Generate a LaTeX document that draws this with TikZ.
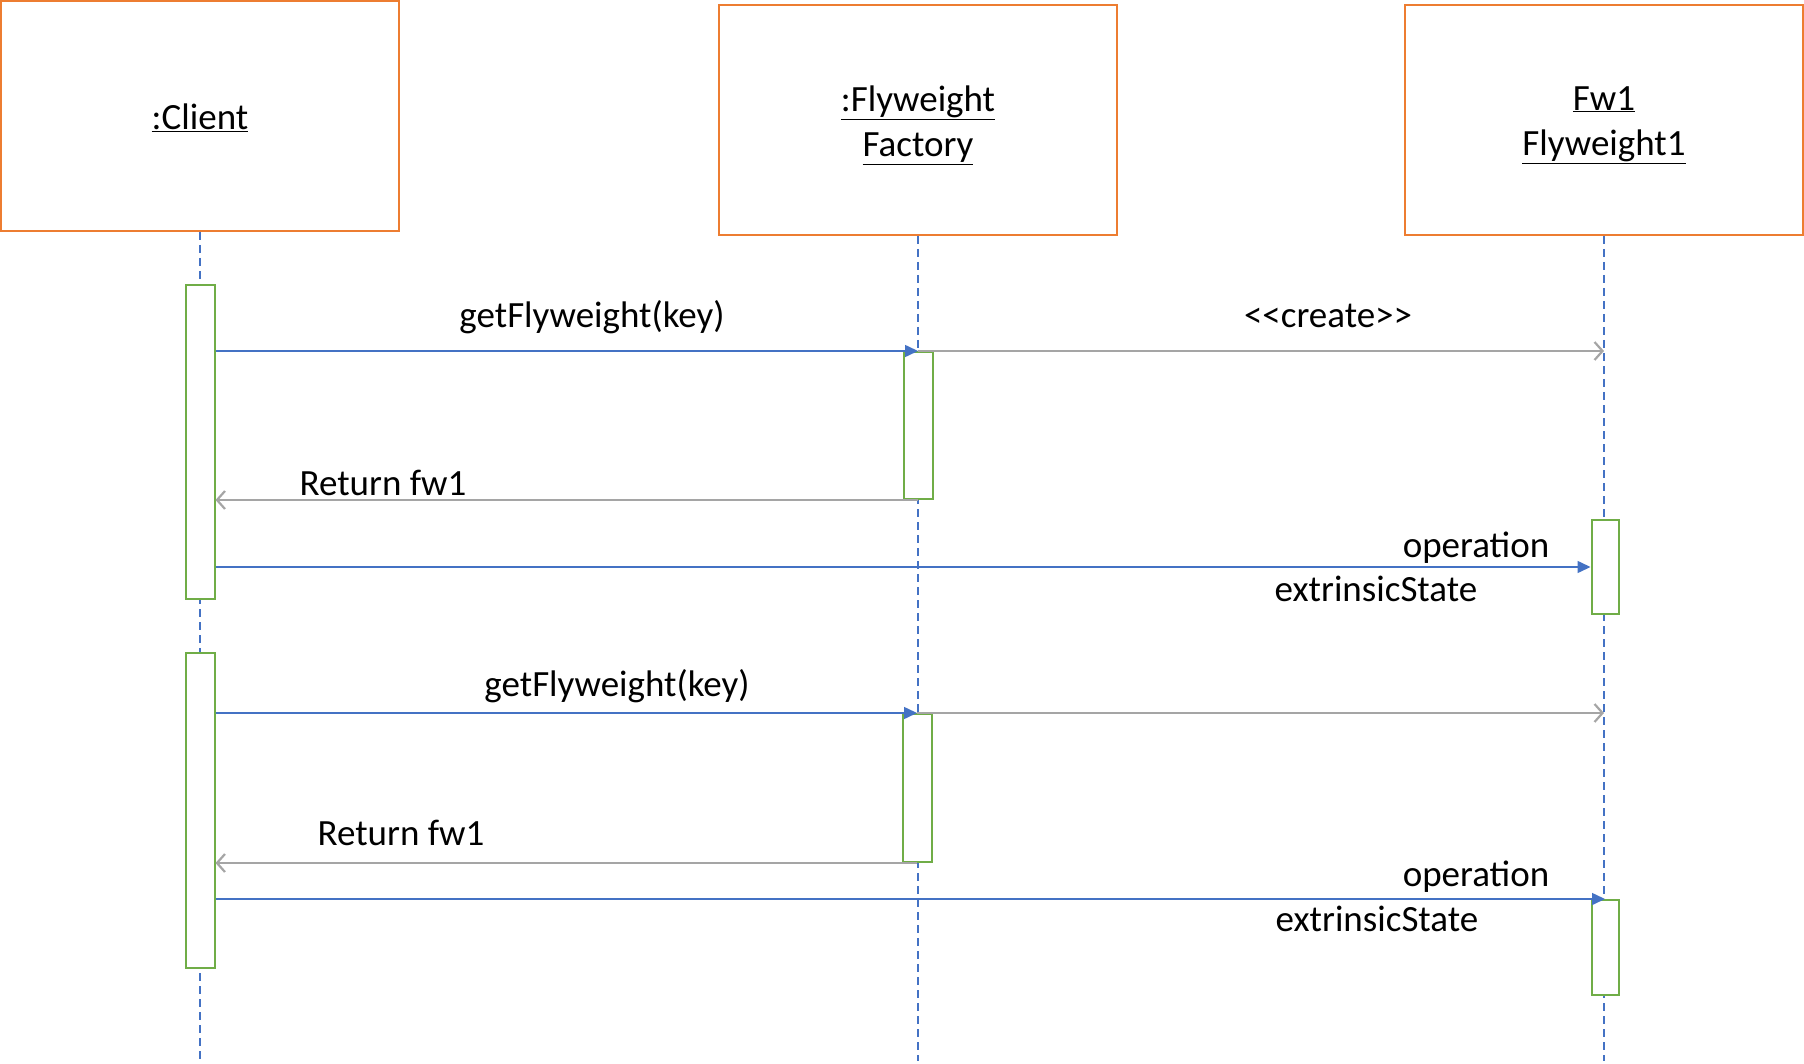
\documentclass[tikz,border=0pt]{standalone}
\usepackage{fontspec}
\setmainfont{Carlito}
\usetikzlibrary{arrows.meta,positioning}
\definecolor{boxorange}{HTML}{ED7D31}
\definecolor{lineblue}{HTML}{4472C4}
\definecolor{actgreen}{HTML}{70AD47}
\definecolor{retgray}{HTML}{A5A5A5}

\begin{document}
\begin{tikzpicture}[x=1pt,y=-1pt,font=\fontsize{37}{45}\selectfont,
  headbox/.style={draw=boxorange,line width=2pt,minimum width=398pt,minimum height=230pt,inner sep=0pt},
  headtext/.style={align=center,inner sep=0pt},
  actbox/.style={draw=actgreen,fill=white,line width=2pt,minimum width=29pt,inner sep=0pt},
  lifeline/.style={draw=lineblue,line width=2pt,dash pattern=on 8pt off 5pt},
  callmsg/.style={draw=lineblue,line width=1.5pt,-{Triangle[length=13pt,width=12pt]}},
  retmsg/.style={draw=retgray,line width=2.2pt,-{Straight Barb[length=8pt,width=18pt]}},
  msglabel/.style={anchor=base,inner sep=0pt}]

\useasboundingbox (0,0) rectangle (1804,1064);

% draw object boxes
\node[headbox] (client) at (200,116) {};
\node[headbox] (factory) at (918,120) {};
\node[headbox] (fw1) at (1604,120) {};
\node[headtext] (clientName) at ([yshift=-2pt]client.center) {\underline{:Client}};
\node[headtext] (factoryName) at ([yshift=-5pt]factory.center) {\underline{:Flyweight}\\\underline{Factory}};
\node[headtext] (fw1Name) at ([yshift=-5pt]fw1.center) {\underline{Fw1}\\\underline{Flyweight1}};

% draw lifelines
\foreach \n in {client,factory,fw1}
{
  \draw[lifeline] (\n.south) -- (\n.south |- 0,1061);
}

% draw activation boxes
\node[actbox,minimum height=314pt] (cAct1) at (200,442) {};
\node[actbox,minimum height=315pt] (cAct2) at (200,810.5) {};
\node[actbox,minimum height=147pt] (fAct1) at (918,425.5) {};
\node[actbox,minimum height=148pt] (fAct2) at (917,788) {};
\node[actbox,minimum height=94pt,minimum width=27pt] (wAct1) at (1605,567) {};
\node[actbox,minimum height=95pt,minimum width=27pt] (wAct2) at (1605,947.5) {};

% first request
\draw[callmsg] (cAct1.east |- fAct1.north) -- (fAct1.north);
\draw[retmsg] (fAct1.north) -- (fw1.south |- fAct1.north);
\draw[retmsg] (fAct1.south) -- (cAct1.east |- fAct1.south);
\draw[callmsg] (cAct1.east |- wAct1.west) -- (wAct1.west);

% second request
\draw[callmsg] (cAct2.east |- fAct2.north) -- (fAct2.north);
\draw[retmsg] (fAct2.north) -- (fw1.south |- fAct2.north);
\draw[retmsg] (fAct2.south) -- (cAct2.east |- fAct2.south);
\draw[callmsg] (cAct2.east |- wAct2.north) -- (wAct2.north);

% message labels
\node[msglabel] (get1) at (592,328) {getFlyweight(key)};
\node[msglabel] (create) at (1328,328) {<{}<create>{}>};
\node[msglabel] (ret1) at (383,495) {Return fw1};
\node[msglabel] (op1) at (1476,557) {operation};
\node[msglabel] (ext1) at (1376,601) {extrinsicState};
\node[msglabel] (get2) at (617,696) {getFlyweight(key)};
\node[msglabel] (ret2) at (401,845) {Return fw1};
\node[msglabel] (op2) at (1476,886) {operation};
\node[msglabel] (ext2) at (1377,931) {extrinsicState};

\end{tikzpicture}
\end{document}
